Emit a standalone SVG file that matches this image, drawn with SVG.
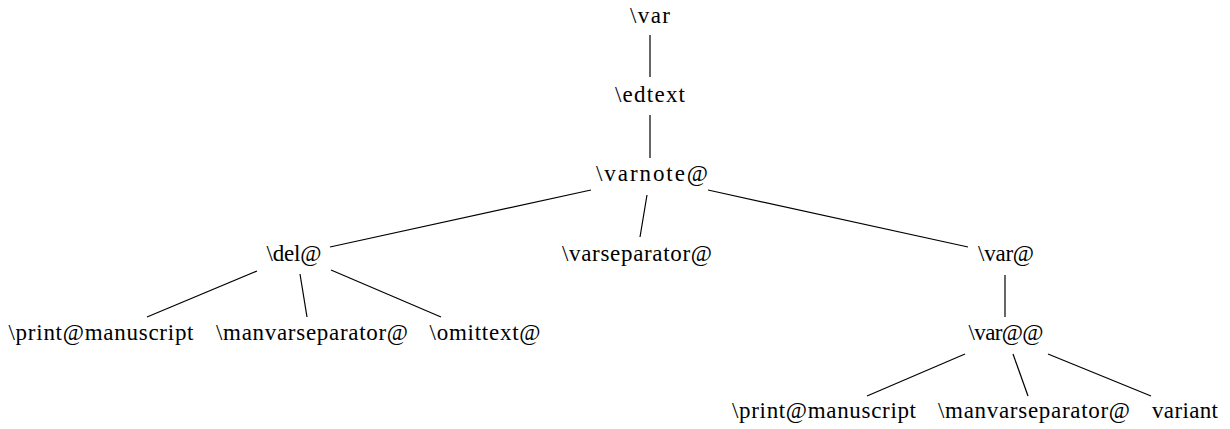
<svg xmlns="http://www.w3.org/2000/svg" width="1230" height="429" viewBox="0 0 1230 429">
<style>
  .bg { fill: #ffffff; }
  .lbl { font-family: "Liberation Serif", "DejaVu Serif", serif; font-size: 23px; fill: #000; text-anchor: middle; }
  .edge { stroke: #000; stroke-width: 1.2; fill: none; stroke-linecap: butt; }
</style>
<rect class="bg" x="0" y="0" width="1230" height="429"/>
<g id="connectors">
  <line class="edge" x1="650" y1="35" x2="650" y2="77"/>
  <line class="edge" x1="650" y1="115" x2="650" y2="158"/>
  <line class="edge" x1="591" y1="190" x2="330" y2="247"/>
  <line class="edge" x1="647" y1="195" x2="640" y2="237"/>
  <line class="edge" x1="708" y1="190" x2="968" y2="247"/>
  <line class="edge" x1="1005" y1="275" x2="1005" y2="317"/>
  <line class="edge" x1="257" y1="271" x2="147" y2="317"/>
  <line class="edge" x1="300" y1="274" x2="307" y2="317"/>
  <line class="edge" x1="331" y1="270" x2="441" y2="317"/>
  <line class="edge" x1="965" y1="354" x2="867" y2="396"/>
  <line class="edge" x1="1013" y1="354" x2="1028" y2="396"/>
  <line class="edge" x1="1048" y1="354" x2="1151" y2="396"/>
</g>
<g id="n-var"><text class="lbl" x="650" y="23" textLength="40">\var</text></g>
<g id="n-edtext"><text class="lbl" x="650" y="102" textLength="70">\edtext</text></g>
<g id="n-varnote"><text class="lbl" x="652" y="181" textLength="112">\varnote@</text></g>
<g id="n-del"><text class="lbl" x="294" y="261" textLength="55">\del@</text></g>
<g id="n-varseparator"><text class="lbl" x="637" y="261" textLength="150">\varseparator@</text></g>
<g id="n-varat"><text class="lbl" x="1006" y="261" textLength="56">\var@</text></g>
<g id="n-print1"><text class="lbl" x="101" y="340" textLength="185">\print@manuscript</text></g>
<g id="n-manvar1"><text class="lbl" x="312" y="340" textLength="192">\manvarseparator@</text></g>
<g id="n-omittext"><text class="lbl" x="485" y="340" textLength="111">\omittext@</text></g>
<g id="n-varatat"><text class="lbl" x="1006" y="340" textLength="75">\var@@</text></g>
<g id="n-print2"><text class="lbl" x="824" y="418" textLength="184">\print@manuscript</text></g>
<g id="n-manvar2"><text class="lbl" x="1034" y="418" textLength="192">\manvarseparator@</text></g>
<g id="n-variant"><text class="lbl" x="1185" y="418" textLength="66">variant</text></g>
</svg>
